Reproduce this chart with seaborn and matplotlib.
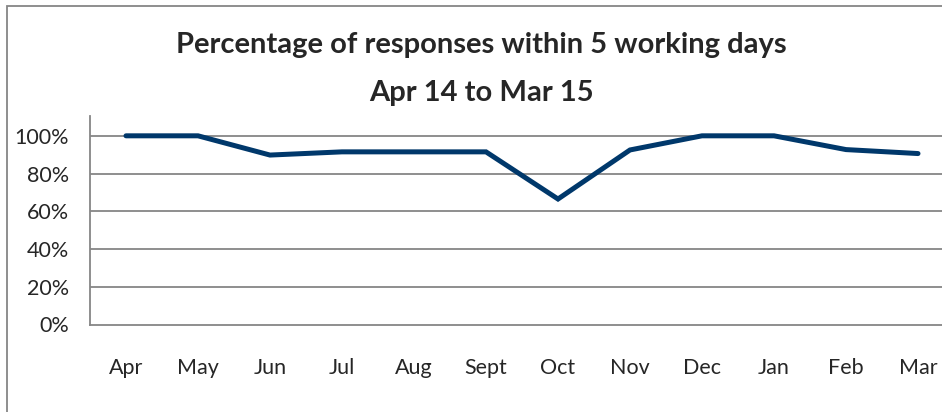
import matplotlib

matplotlib.use('Agg')
import matplotlib.pyplot as plt
import matplotlib.patches as patches
import numpy as np
import pandas as pd
import seaborn as sns

months = ['Apr', 'May', 'Jun', 'Jul', 'Aug', 'Sept', 'Oct', 'Nov', 'Dec', 'Jan', 'Feb', 'Mar']
pct_within_5_days = [100, 100, 89.8, 91.5, 91.5, 91.5, 66.5, 92.5, 100, 100, 92.7, 90.6]
y_ticks = [0, 20, 40, 60, 80, 100]
y_labels = ['0%', '20%', '40%', '60%', '80%', '100%']

df = pd.DataFrame({'month': months, 'pct': pct_within_5_days})

sns.set_style('white')
plt.rcParams['font.family'] = ['Lato', 'DejaVu Sans']

fig = plt.figure(figsize=(9.42, 4.12), dpi=100)
W, H = 942, 412
# plot area, cropped on the right like the reference
ax = fig.add_axes([90 / W, (H - 324.5) / H, (954 - 90) / W, (324.5 - 116) / H])

grey = '#868686'
for y in y_ticks[1:]:
    ax.axhline(y, color=grey, lw=1.3, zorder=1)

sns.lineplot(data=df, x='month', y='pct', ax=ax, color='#00386b', lw=3.6,
             sort=False, solid_capstyle='round', solid_joinstyle='miter', zorder=3)

ax.set_xlim(-0.5, 11.5)
ax.set_ylim(0, 110.5)
ax.set_yticks(y_ticks)
ax.set_yticklabels(y_labels, fontsize=15.5)
ax.set_xticks(np.arange(len(months)))
ax.set_xticklabels(months, fontsize=15.5)
ax.set_xticks(np.arange(len(months)) - 0.5, minor=True)
ax.tick_params(axis='x', which='major', length=0, pad=24)
ax.tick_params(axis='x', which='minor', length=6, width=1.3, color=grey, direction='out')
ax.tick_params(axis='y', length=6, width=1.3, color=grey, direction='out', pad=9)
ax.set_xlabel('')
ax.set_ylabel('')
for side in ['top', 'right']:
    ax.spines[side].set_visible(False)
for side in ['left', 'bottom']:
    ax.spines[side].set_color(grey)
    ax.spines[side].set_linewidth(1.3)

fig.text(481 / W, 1 - 52.7 / H, 'Percentage of responses within 5 working days',
         ha='center', va='baseline', fontsize=21, fontweight='bold')
fig.text(481 / W, 1 - 100.7 / H, 'Apr 14 to Mar 15',
         ha='center', va='baseline', fontsize=21, fontweight='bold')

# chart border
fig.patches.append(patches.Rectangle((7 / W, -0.1), 1.2, 1.1 - 6 / H,
                                     transform=fig.transFigure, fill=False,
                                     edgecolor=grey, lw=1.3))

fig.savefig('out.png', dpi=100)
